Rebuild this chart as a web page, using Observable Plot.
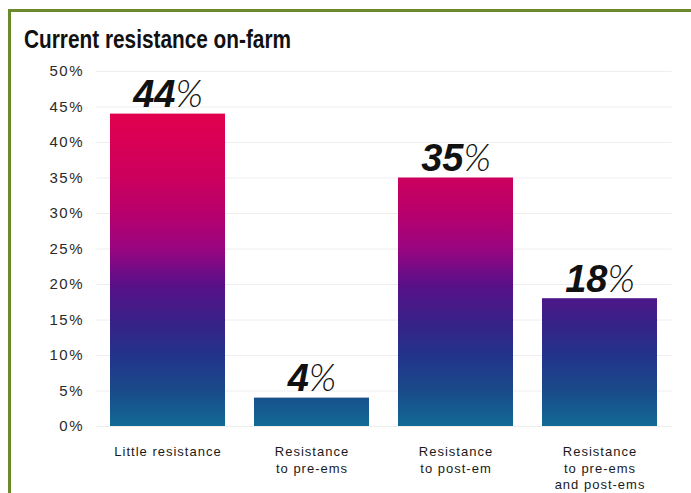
<!DOCTYPE html>
<html><head><meta charset="utf-8">
<script src="https://cdn.jsdelivr.net/npm/d3@7"></script>
<script src="https://cdn.jsdelivr.net/npm/@observablehq/plot@0.6"></script>
<style>
body{margin:0;background:#fff;}
#wrap{position:relative;width:691px;height:493px;overflow:hidden;background:#fff}
#bt{position:absolute;left:8px;top:9px;width:683px;height:3px;background:#6b8a2b}
#bl{position:absolute;left:8px;top:9px;width:3px;height:484px;background:#6b8a2b}
#title{position:absolute;left:24px;top:26px;line-height:26px;font-weight:bold;font-size:26px;font-family:"Liberation Sans",Arial,sans-serif;color:#111;white-space:nowrap;transform:scaleX(0.8);transform-origin:0 0}
#chart{position:absolute;left:0;top:55px}
</style></head>
<body>
<div id="wrap">
  <div id="bt"></div><div id="bl"></div>
  <div id="title">Current resistance on-farm</div>
  <div id="chart"></div>
</div>
<script>
const categories = ["Little resistance", "Resistance\nto pre-ems", "Resistance\nto post-em", "Resistance\nto pre-ems\nand post-ems"];
const values = [44, 4, 35, 18];
const yTicks = [0, 5, 10, 15, 20, 25, 30, 35, 40, 45, 50];

const data = categories.map((c, i) => ({category: c, value: values[i]}));

const plot = Plot.plot({
  width: 691,
  height: 438,
  marginTop: 16,
  marginBottom: 67,
  marginLeft: 95.5,
  marginRight: 19.5,
  style: {fontFamily: "'Liberation Sans', Arial, sans-serif", fontSize: "13px", color: "#222", background: "transparent"},
  x: {domain: categories, paddingInner: 0.2, paddingOuter: 0.1, label: null},
  y: {domain: [0, 50], label: null},
  marks: [
    Plot.gridY(yTicks, {stroke: "#eeeeee", strokeOpacity: 1}),
    Plot.axisY(yTicks, {tickSize: 0, tickPadding: 12, tickFormat: d => d + "%", label: null, fontSize: 15, fill: "#2a2a2a"}),
    Plot.axisX({tickSize: 0, tickPadding: 18, label: null, fontSize: 13, lineHeight: 1.27, fill: "#1a1a1a"}),
    Plot.barY(data, {x: "category", y: "value", fill: "url(#barGrad)"}),
    Plot.text(data, {x: "category", y: "value", text: d => d.value + "%", lineAnchor: "bottom", dy: -7, fontSize: 38, fontStyle: "italic", fill: "#111"})
  ]
});

// gradient in absolute (data) coordinates
const ys = plot.scale("y");
const gradTop = d3.max(values);
const defs = d3.select(plot).insert("defs", ":first-child");
const grad = defs.append("linearGradient").attr("id", "barGrad")
  .attr("gradientUnits", "userSpaceOnUse")
  .attr("x1", 0).attr("x2", 0)
  .attr("y1", ys.apply(0)).attr("y2", ys.apply(gradTop));
[[0, "#126a95"], [0.114, "#1a4a8a"], [0.227, "#22338a"], [0.341, "#3a2088"], [0.455, "#5a1088"],
 [0.568, "#9a0580"], [0.682, "#b8006c"], [0.795, "#cc005e"], [1, "#e2004e"]]
  .forEach(([o, c]) => grad.append("stop").attr("offset", o).attr("stop-color", c));

// axis label styling
d3.select(plot).selectAll('[aria-label="y-axis tick label"] text').style("letter-spacing", "1.5px");
d3.select(plot).selectAll('[aria-label="x-axis tick label"] text').style("letter-spacing", "1px");

// value labels: bold number, light percent sign
d3.select(plot).selectAll('g[aria-label="text"] text').each(function() {
  const t = this.textContent;
  const num = t.replace("%", "");
  const sel = d3.select(this);
  sel.text(null);
  sel.append("tspan").attr("font-weight", "bold").text(num);
  sel.append("tspan").attr("font-weight", "300").attr("font-family", "Lato, 'Open Sans', sans-serif").text("%");
});

document.getElementById("chart").appendChild(plot);
</script>
</body></html>
